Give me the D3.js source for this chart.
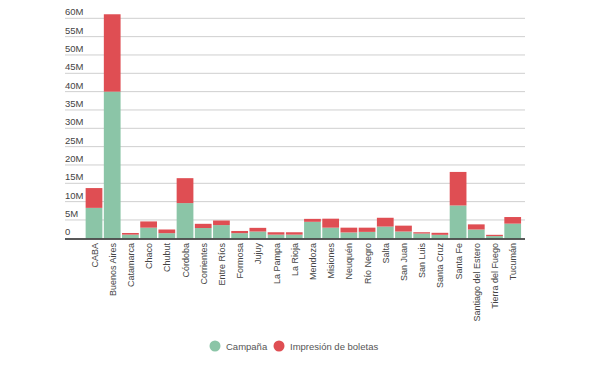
<!DOCTYPE html>
<html>
<head>
<meta charset="utf-8">
<script src="https://cdn.jsdelivr.net/npm/d3@7"></script>
<style>
  body { margin: 0; background: #fff; }
  svg { display: block; }
</style>
</head>
<body>
<div id="chart"></div>
<script>
// provinces and spending (millions)
var provinces = ["CABA", "Buenos Aires", "Catamarca", "Chaco", "Chubut", "Córdoba", "Corrientes", "Entre Ríos",
    "Formosa", "Jujuy", "La Pampa", "La Rioja", "Mendoza", "Misiones", "Neuquén", "Río Negro", "Salta",
    "San Juan", "San Luis", "Santa Cruz", "Santa Fe", "Santiago del Estero", "Tierra del Fuego", "Tucumán"];
var campania = [8.3, 40.0, 1.0, 2.9, 1.4, 9.6, 2.8, 3.6, 1.4, 1.85, 1.0, 1.0, 4.5, 2.9, 1.6, 1.75, 3.2,
    1.85, 1.3, 0.95, 8.95, 2.4, 0.6, 4.0];
var boletas = [5.4, 21.1, 0.45, 1.7, 1.0, 6.8, 1.15, 1.25, 0.6, 1.0, 0.65, 0.65, 0.8, 2.45, 1.3, 1.15, 2.4,
    1.6, 0.35, 0.55, 9.15, 1.4, 0.35, 1.8];
var yTicks = [0, 5, 10, 15, 20, 25, 30, 35, 40, 45, 50, 55, 60];
var seriesNames = ["Campaña", "Impresión de boletas"];
var colors = ["#8bc5a7", "#df4e53"];

var width = 600, height = 365;
var left = 65, right = 525;

var svg = d3.select("#chart").append("svg")
    .attr("width", width)
    .attr("height", height)
    .style("font-family", "'Liberation Sans', Arial, sans-serif");

var y = d3.scaleLinear().domain([0, 60]).range([238.3, 18.3]);
var x = d3.scaleBand().domain(provinces).range([84.9, 521.8]).paddingInner(0.08).paddingOuter(0.04);

// gridlines with labels above them
var grid = svg.append("g");
grid.selectAll("line")
    .data(yTicks.filter(function (d) { return d > 0; }))
    .enter().append("line")
    .attr("x1", left).attr("x2", right)
    .attr("y1", function (d) { return y(d); })
    .attr("y2", function (d) { return y(d); })
    .attr("stroke", "#cfcfcf")
    .attr("stroke-width", 1);
grid.selectAll("text")
    .data(yTicks)
    .enter().append("text")
    .attr("x", left)
    .attr("y", function (d) { return y(d) - 3; })
    .text(function (d) { return d === 0 ? "0" : d + "M"; })
    .style("font-size", "9.5px")
    .style("fill", "#444");

// stacked bars
var rows = provinces.map(function (p, i) {
    return { prov: p, c: campania[i], b: boletas[i] };
});
var stacked = d3.stack().keys(["c", "b"])(rows);

svg.append("g").selectAll("g")
    .data(stacked)
    .enter().append("g")
    .attr("fill", function (d, i) { return colors[i]; })
    .selectAll("rect")
    .data(function (d) { return d; })
    .enter().append("rect")
    .attr("x", function (d) { return x(d.data.prov); })
    .attr("width", x.bandwidth())
    .attr("y", function (d) { return y(d[1]); })
    .attr("height", function (d) { return y(d[0]) - y(d[1]); });

// baseline
svg.append("line")
    .attr("x1", left).attr("x2", right)
    .attr("y1", y(0) + 0.7).attr("y2", y(0) + 0.7)
    .attr("stroke", "#222")
    .attr("stroke-width", 1.5);

// category labels, rotated
svg.append("g").selectAll("text")
    .data(provinces)
    .enter().append("text")
    .attr("transform", function (d) {
        return "translate(" + (x(d) + x.bandwidth() / 2 + 3.5) + ",243) rotate(-90)";
    })
    .attr("text-anchor", "end")
    .text(function (d) { return d; })
    .style("font-size", "9px")
    .style("fill", "#444");

// legend
var legend = svg.append("g").selectAll("g")
    .data(seriesNames)
    .enter().append("g")
    .attr("transform", function (d, i) { return "translate(" + (i === 0 ? 215 : 279) + ",346)"; });
legend.append("circle")
    .attr("r", 5.5)
    .attr("fill", function (d, i) { return colors[i]; });
legend.append("text")
    .attr("x", 11)
    .attr("y", 3.5)
    .text(function (d) { return d; })
    .style("font-size", "9.5px")
    .style("fill", "#555");
</script>
</body>
</html>
